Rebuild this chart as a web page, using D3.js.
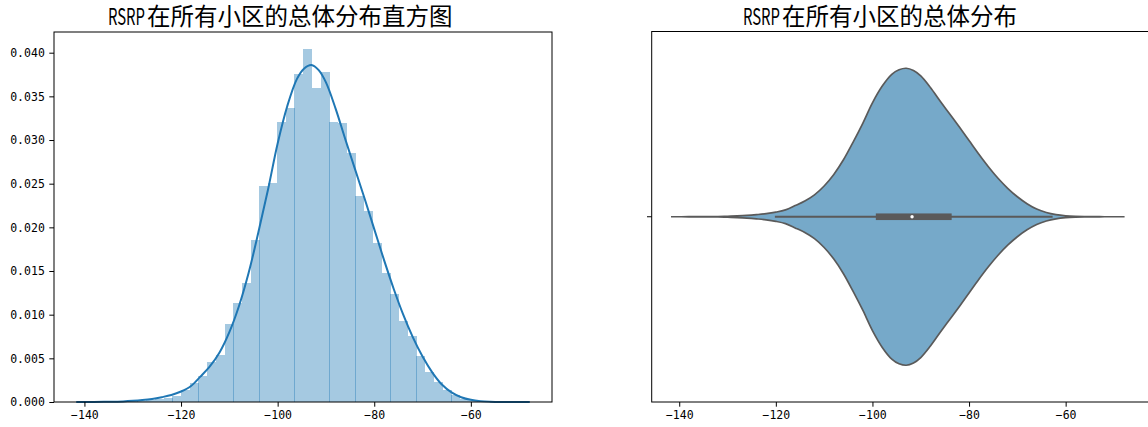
<!DOCTYPE html>
<html>
<head>
<meta charset="utf-8">
<script src="https://cdn.jsdelivr.net/npm/d3@7"></script>
<style>
  body { margin: 0; background: #fff; }
  svg { display: block; }
  .tick text { font-family: "DejaVu Sans Mono", monospace; font-size: 11.5px; fill: #000; }
</style>
</head>
<body>
<svg id="chart" width="1148" height="427"></svg>
<script>
// histogram: 50 bins, left edge of first bin and bin width (dBm)
const histStart = -139.86, histWidth = 1.805;
const histDensity = [
  0.00001, 0.00001, 0.00002, 0.00003, 0.00005, 0.00008, 0.00012, 0.0002, 0.0003, 0.00045,
  0.0007, 0.0014, 0.00214, 0.00298, 0.00462, 0.00538, 0.00893, 0.01135, 0.01367, 0.01856,
  0.02474, 0.02505, 0.03207, 0.03364, 0.03757, 0.0404, 0.03593, 0.03776, 0.03211, 0.03192,
  0.02849, 0.0236, 0.02188, 0.01821, 0.01476, 0.01237, 0.00929, 0.00756, 0.00527, 0.00345,
  0.00227, 0.00134, 0.0008, 0.0004, 0.0002, 0.0001, 0.00005, 0.00003, 0.00001, 0.00001
];

// kernel density estimate
const kdeX = [-141.7, -138, -135, -132, -130, -128, -126, -124, -122, -120, -118, -116, -114, -112,
  -110, -108, -106, -104, -102, -100, -98, -96, -94.5, -93, -91.5, -90, -88, -86, -84, -82, -80,
  -78, -76, -74, -72, -70, -68, -66, -64, -62, -60, -58, -56, -53, -50, -47.8];
const kdeY = [0, 0.00001, 0.00003, 0.00007, 0.00013, 0.00022, 0.00035, 0.00055, 0.0008, 0.0012,
  0.0018, 0.0029, 0.0041, 0.0057, 0.0080, 0.0110, 0.0148, 0.0194, 0.0243, 0.0296, 0.0339, 0.0370,
  0.0382, 0.0386, 0.0380, 0.0366, 0.0336, 0.0301, 0.0267, 0.0233, 0.0198, 0.0163, 0.0130, 0.0100,
  0.0074, 0.0052, 0.0034, 0.0020, 0.0011, 0.00055, 0.00025, 0.0001, 0.00004, 0.00001, 0, 0];

// box inside the violin: whisker low, q1, median, q3, whisker high
const boxStats = [-120.2, -99.3, -91.8, -83.6, -62.7];

const yTicks = [0, 0.005, 0.01, 0.015, 0.02, 0.025, 0.03, 0.035, 0.04];
const xTicks = [-140, -120, -100, -80, -60];
const titles = ["在所有小区的总体分布直方图", "在所有小区的总体分布"];

const svg = d3.select("#chart");
const C0 = "#1f77b4", gray = "#5a5a5a";

function frame(g, x0, x1, y0, y1) {
  g.append("rect")
    .attr("x", x0).attr("y", y0)
    .attr("width", x1 - x0).attr("height", y1 - y0)
    .attr("fill", "none").attr("stroke", "#000").attr("stroke-width", 1);
}

function title(x, txt) {
  // latin part is narrow in the original, squeeze it horizontally
  var r = svg.append("text")
    .style("font-family", "'Noto Sans CJK SC', sans-serif")
    .style("font-size", "23px")
    .style("fill", "#000")
    .text("RSRP");
  var sx = 37 / r.node().getComputedTextLength();
  r.attr("transform", "translate(" + x + ",24.5) scale(" + sx + ",1)");

  svg.append("text")
    .attr("x", x + 39).attr("y", 24.5)
    .style("font-family", "'Noto Sans CJK SC', sans-serif")
    .style("font-size", "23.5px")
    .style("fill", "#000")
    .text(txt);
}

function xAxis(g, x, y) {
  var ax = g.append("g")
    .attr("transform", "translate(0," + y + ")")
    .call(d3.axisBottom(x).tickValues(xTicks).tickSize(4.7).tickPadding(4).tickSizeOuter(0));
  ax.select(".domain").remove();
  ax.selectAll(".tick line").attr("stroke", "#000");
}

// ---------- left: histogram + kde ----------
var L = { x0: 54, x1: 552, y0: 32, y1: 402 };
var xl = d3.scaleLinear().domain([-146.3, -43.2]).range([L.x0, L.x1]);
var yl = d3.scaleLinear().domain([0, 0.04237]).range([L.y1, L.y0]);
var gl = svg.append("g");

var barW = Math.ceil(xl(histWidth) - xl(0));
gl.append("g")
  .selectAll("rect")
  .data(histDensity)
  .enter()
  .append("rect")
    .attr("x", function(d, i) { return Math.round(xl(histStart + i * histWidth)); })
    .attr("y", function(d) { return yl(d); })
    .attr("width", barW)
    .attr("height", function(d) { return yl(0) - yl(d); })
    .attr("fill", C0)
    .attr("fill-opacity", 0.4)
    .attr("shape-rendering", "crispEdges");

var kde = kdeX.map(function(v, i) { return [v, kdeY[i]]; });
gl.append("path")
  .datum(kde)
  .attr("fill", "none")
  .attr("stroke", C0)
  .attr("stroke-width", 2)
  .attr("d", d3.line()
    .x(function(d) { return xl(d[0]); })
    .y(function(d) { return yl(d[1]); })
    .curve(d3.curveCatmullRom.alpha(0.5)));

var ya = gl.append("g")
  .attr("transform", "translate(" + L.x0 + ",0)")
  .call(d3.axisLeft(yl).tickValues(yTicks).tickFormat(d3.format(".3f")).tickSize(4.7).tickPadding(4.5).tickSizeOuter(0));
ya.select(".domain").remove();
ya.selectAll(".tick line").attr("stroke", "#000");
xAxis(gl, xl, L.y1);
frame(gl, L.x0, L.x1, L.y0, L.y1);
title(108, titles[0]);

// ---------- right: violin ----------
var R = { x0: 651.7, x1: 1149.7, y0: 31.5, y1: 402 };
var xr = d3.scaleLinear().domain([-145.7, -42.6]).range([R.x0, R.x1]);
var cy = (R.y0 + R.y1) / 2;
var wr = d3.scaleLinear().domain([0, d3.max(kdeY)]).range([0, 148.5]);
var gr = svg.append("g");

gr.append("path")
  .datum(kde)
  .attr("fill", "#76a9c9")
  .attr("stroke", gray)
  .attr("stroke-width", 1.7)
  .attr("d", d3.area()
    .x(function(d) { return xr(d[0]); })
    .y0(function(d) { return cy + wr(d[1]); })
    .y1(function(d) { return cy - wr(d[1]); })
    .curve(d3.curveCatmullRom.alpha(0.5)));

gr.append("line")
  .attr("x1", xr(boxStats[0])).attr("x2", xr(boxStats[4]))
  .attr("y1", cy).attr("y2", cy)
  .attr("stroke", gray).attr("stroke-width", 1.8);
gr.append("rect")
  .attr("x", xr(boxStats[1])).attr("width", xr(boxStats[3]) - xr(boxStats[1]))
  .attr("y", cy - 3.3).attr("height", 6.6)
  .attr("fill", gray);
gr.append("circle")
  .attr("cx", xr(boxStats[2])).attr("cy", cy).attr("r", 1.7)
  .attr("fill", "#fff");

gr.append("line")
  .attr("x1", R.x0 - 4.7).attr("x2", R.x0)
  .attr("y1", cy).attr("y2", cy)
  .attr("stroke", "#000");
xAxis(gr, xr, R.y1);
frame(gr, R.x0, R.x1, R.y0, R.y1);
title(743, titles[1]);
</script>
</body>
</html>
